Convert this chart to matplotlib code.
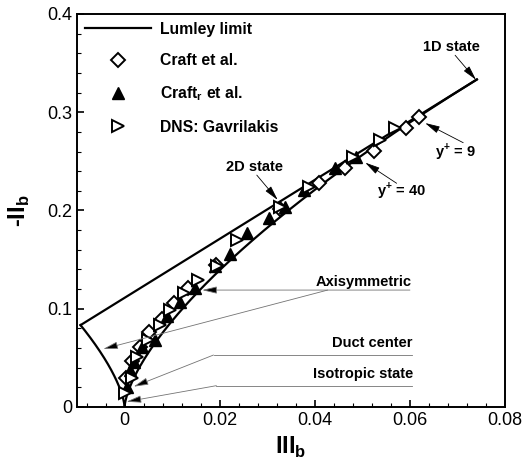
import numpy as np
import matplotlib
matplotlib.use('Agg')
import matplotlib.pyplot as plt
from matplotlib.ticker import MultipleLocator

plt.rcParams['font.family'] = ['Liberation Sans', 'DejaVu Sans']
plt.rcParams['mathtext.fontset'] = 'custom'
plt.rcParams['mathtext.rm'] = 'Liberation Sans'
plt.rcParams['mathtext.bf'] = 'Liberation Sans:bold'

# Craft et al. (III_b, -II_b)
craft_III = [0.0620, 0.0592, 0.0525, 0.0464, 0.0408, 0.0327, 0.0193, 0.0134,
             0.0103, 0.0079, 0.0052, 0.0033, 0.0016, 0.0004]
craft_II = [0.295, 0.284, 0.261, 0.243, 0.228, 0.202, 0.1445, 0.121,
            0.1055, 0.090, 0.0767, 0.0607, 0.047, 0.029]

# Craft_r et al.
craftr_III = [0.0487, 0.0443, 0.0378, 0.0338, 0.0303, 0.0257, 0.0222, 0.0191,
              0.0149, 0.0117, 0.0089, 0.0063, 0.0037, 0.0019, 0.0012, 0.0005]
craftr_II = [0.254, 0.243, 0.221, 0.204, 0.192, 0.177, 0.156, 0.143,
             0.121, 0.107, 0.0926, 0.068, 0.0614, 0.046, 0.0377, 0.0207]

# DNS: Gavrilakis
dns_III = [0.0569, 0.0537, 0.0481, 0.0387, 0.0327, 0.0237, 0.0194, 0.0155,
           0.0124, 0.0096, 0.0075, 0.0050, 0.0026, 0.0016, 0.0001]
dns_II = [0.2837, 0.2718, 0.2548, 0.224, 0.204, 0.170, 0.143, 0.129,
          0.1163, 0.0987, 0.0835, 0.068, 0.0512, 0.029, 0.014]

# Lumley triangle: axisymmetric branches and two-component line
a_pos = np.linspace(0, 2/3, 200)
a_neg = np.linspace(0, -1/3, 200)
ax_right_III = a_pos**3 / 4
ax_right_II = 0.75 * a_pos**2
ax_left_III = a_neg**3 / 4
ax_left_II = 0.75 * a_neg**2
tc_III = np.array([-1/108, 2/27])
tc_II = 1/9 + 3 * tc_III

fig = plt.figure(figsize=(5.25, 4.71), dpi=100)
ax = fig.add_axes([0.1467, 0.1359, 0.8153, 0.8344])

ax.plot(ax_right_III, ax_right_II, 'k-', lw=1.6, label='Lumley limit')
ax.plot(ax_left_III, ax_left_II, 'k-', lw=1.6)
ax.plot(tc_III, tc_II, 'k-', lw=1.6)

ax.plot(craft_III, craft_II, 'D', ms=7.5, mfc='white', mec='k', mew=1.4,
        ls='none', label='Craft et al.')
ax.plot(craftr_III, craftr_II, '^', ms=8.5, mfc='k', mec='k',
        ls='none', label=r'Craft$_\mathbf{r}$ et al.')
ax.plot(dns_III, dns_II, '>', ms=8, mfc='white', mec='k', mew=1.4,
        ls='none', label='DNS: Gavrilakis')

ax.set_xlim(-0.01, 0.08)
ax.set_ylim(0, 0.4)
ax.xaxis.set_minor_locator(MultipleLocator(0.004))
ax.yaxis.set_minor_locator(MultipleLocator(0.02))
ax.set_xticks([0, 0.02, 0.04, 0.06, 0.08])
ax.set_xticklabels(['0', '0.02', '0.04', '0.06', '0.08'])
ax.set_yticks([0, 0.1, 0.2, 0.3, 0.4])
ax.set_yticklabels(['0', '0.1', '0.2', '0.3', '0.4'])
ax.tick_params(which='both', direction='in', top=False, right=False,
               labelsize=13)
ax.tick_params(which='major', length=5, width=1.2)
ax.tick_params(which='minor', length=3, width=0.8)
for s in ax.spines.values():
    s.set_linewidth(1.4)

ax.set_xlabel(r'III$_\mathbf{b}$', fontsize=17, fontweight='bold', labelpad=4)
ax.set_ylabel(r'-II$_\mathbf{b}$', fontsize=17, fontweight='bold', labelpad=11)

leg = ax.legend(loc='upper left', frameon=False,
                prop={'weight': 'bold', 'size': 11.3}, handlelength=4.2,
                handletextpad=0.6, labelspacing=1.05, borderaxespad=0.3,
                borderpad=0.2)

txt = dict(fontsize=10.5, fontweight='bold')
black_arrow = dict(arrowstyle='-|>,head_length=0.9,head_width=0.22',
                   color='k', lw=0.6, shrinkA=0, shrinkB=0)
grey_arrow = dict(arrowstyle='-|>,head_length=0.9,head_width=0.22',
                  ec='0.45', fc='k', lw=0.6, shrinkA=0, shrinkB=0)

ax.text(0.0688, 0.366, '1D state', ha='center', va='center', **txt)
ax.annotate('', xy=(0.0739, 0.333), xytext=(0.0695, 0.358),
            arrowprops=black_arrow)
ax.text(0.0274, 0.2445, '2D state', ha='center', va='center', **txt)
ax.annotate('', xy=(0.0322, 0.2107), xytext=(0.0278, 0.236),
            arrowprops=black_arrow)
ax.text(0.0695, 0.260, r'y$^\mathbf{+}$ = 9', ha='center', va='center', **txt)
ax.annotate('', xy=(0.0632, 0.289), xytext=(0.0712, 0.269),
            arrowprops=black_arrow)
ax.text(0.0583, 0.220, r'y$^\mathbf{+}$ = 40', ha='center', va='center', **txt)
ax.annotate('', xy=(0.0506, 0.2487), xytext=(0.0572, 0.2277),
            arrowprops=black_arrow)

# leader lines for the lower labels
ax.text(0.0604, 0.1275, 'Axisymmetric', ha='right', va='center', **txt)
ax.annotate('', xy=(0.0163, 0.119), xytext=(0.0600, 0.119),
            arrowprops=grey_arrow)
ax.annotate('', xy=(-0.0045, 0.059), xytext=(0.0427, 0.119),
            arrowprops=grey_arrow)

ax.text(0.0606, 0.0648, 'Duct center', ha='right', va='center', **txt)
ax.plot([0.0604, 0.0187], [0.0529, 0.0529], color='0.45', lw=0.6)
ax.annotate('', xy=(0.0019, 0.0207), xytext=(0.0187, 0.0529),
            arrowprops=grey_arrow)

ax.text(0.0606, 0.0336, 'Isotropic state', ha='right', va='center', **txt)
ax.plot([0.0604, 0.0193], [0.0217, 0.0217], color='0.45', lw=0.6)
ax.annotate('', xy=(0.0004, 0.0054), xytext=(0.0193, 0.0217),
            arrowprops=grey_arrow)

fig.savefig('out.png', dpi=100)
